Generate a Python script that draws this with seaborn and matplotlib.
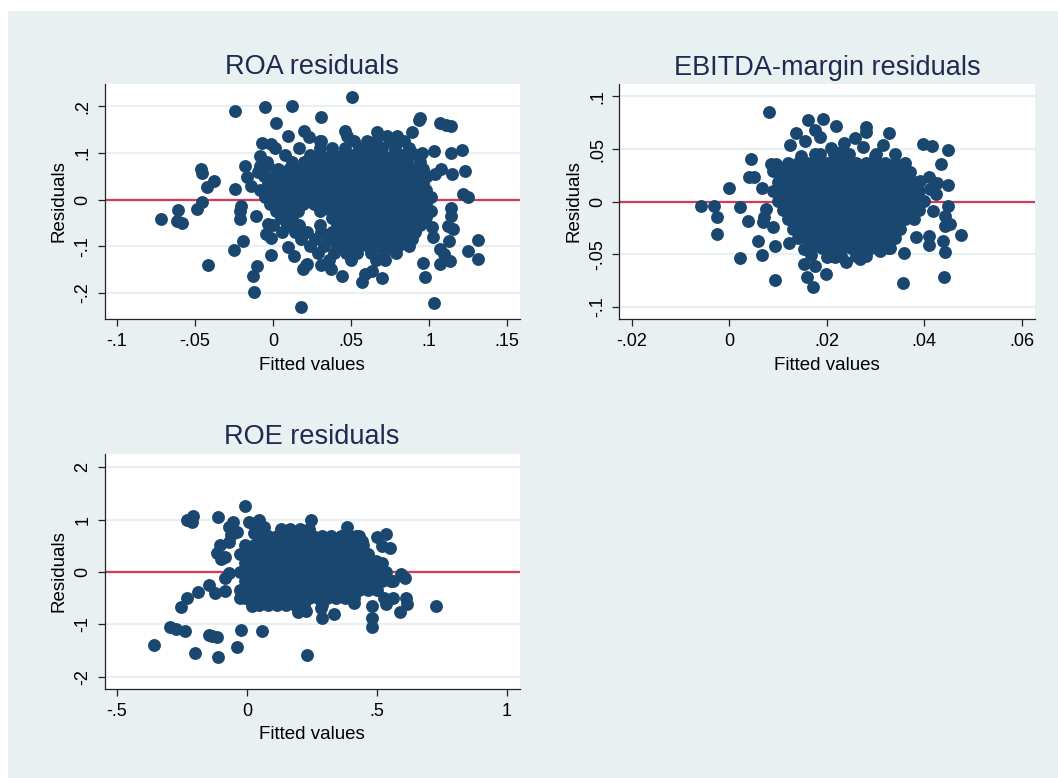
import matplotlib
matplotlib.use("Agg")
import matplotlib.pyplot as plt
from matplotlib.patches import Rectangle
import seaborn as sns
import pandas as pd

# ---------------- ROA residuals vs fitted values ----------------
# scattered observations (fitted, residual)
roa_fit_out = [-0.0244, -0.0054, 0.0123, 0.0021, 0.0097, 0.0202, 0.0234, -0.0069, -0.0015, -0.0086,
               -0.0086, -0.0033, -0.0176, -0.0167, -0.0246, -0.0379, -0.0422, -0.0464, -0.0454, -0.0455,
               -0.0486, -0.0607, -0.0716, -0.0616, -0.0582, -0.0204, -0.0214, -0.0210, -0.0193, -0.0252,
               -0.0415, -0.0101, -0.0129, -0.0124, 0.0177, -0.0012, -0.0108, -0.0140, -0.0097, -0.0044,
               -0.0012, -0.0033, 0.0192, 0.0217, 0.0095, 0.0132,
               0.0507, 0.0305, 0.0941, 0.0935, 0.1069, 0.1112, 0.1144, 0.0894, 0.0461, 0.0472,
               0.1033, 0.1138, 0.1212, 0.1229, 0.1148, 0.1080, 0.1037, 0.1215, 0.1247, 0.1138,
               0.1138, 0.1122, 0.1154, 0.1315, 0.1247, 0.1311, 0.1127, 0.1069, 0.1095, 0.1133,
               0.1069, 0.0962, 0.0975, 0.1033, 0.1026, 0.1020, 0.0984, 0.0696, 0.0568, 0.0632,
               0.0589, 0.0440, 0.0375, 0.0305, 0.0215, 0.0300, 0.0670, 0.0734, 0.0792, 0.0888, 0.0952]
roa_res_out = [0.1906, 0.199, 0.201, 0.1636, 0.1358, 0.148, 0.135, 0.121, 0.119, 0.094,
               0.073, 0.073, 0.073, 0.048, 0.023, 0.041, 0.027, 0.066, 0.057, -0.006,
               -0.020, -0.022, -0.041, -0.046, -0.051, -0.013, -0.024, -0.041, -0.088, -0.108,
               -0.141, -0.143, -0.163, -0.198, -0.229, -0.118, -0.034, 0.030, 0.059, -0.073,
               -0.083, -0.052, -0.148, -0.138, -0.102, -0.120,
               0.2206, 0.178, 0.176, 0.170, 0.164, 0.160, 0.157, 0.144, 0.148, 0.137,
               0.105, 0.099, 0.106, 0.062, 0.054, 0.066, 0.054, 0.012, 0.005, -0.018,
               -0.034, -0.056, -0.063, -0.086, -0.111, -0.128, -0.088, -0.106, -0.116, -0.131,
               -0.138, -0.136, -0.165, -0.222, -0.080, -0.059, -0.038, -0.168, -0.177, -0.152,
               -0.159, -0.163, -0.148, -0.140, -0.141, 0.126, 0.144, 0.137, 0.136, 0.101, 0.101]
# dense cloud, one row of fitted values per residual level
roa_core = [
    (0.125, [0.031, 0.052, 0.060, 0.066, 0.075, 0.084]),
    (0.110, [0.001, 0.017, 0.030, 0.038, 0.046, 0.055, 0.062, 0.070, 0.078, 0.087]),
    (0.095, [0.008, 0.024, 0.031, 0.038, 0.044, 0.051, 0.057, 0.064, 0.070, 0.077, 0.083, 0.092]),
    (0.080, [-0.004, 0.012, 0.020, 0.027, 0.034, 0.040, 0.047, 0.053, 0.060, 0.066, 0.073, 0.079, 0.086, 0.094]),
    (0.065, [0.003, 0.010, 0.017, 0.024, 0.031, 0.037, 0.044, 0.050, 0.057, 0.063, 0.070, 0.076, 0.083, 0.089, 0.096]),
    (0.050, [-0.006, 0.001, 0.008, 0.014, 0.021, 0.028, 0.034, 0.041, 0.047, 0.054, 0.060, 0.067, 0.073, 0.080, 0.086, 0.093, 0.099]),
    (0.035, [-0.003, 0.004, 0.011, 0.018, 0.024, 0.031, 0.037, 0.044, 0.050, 0.057, 0.063, 0.070, 0.076, 0.083, 0.089, 0.096]),
    (0.020, [-0.008, -0.001, 0.006, 0.013, 0.020, 0.027, 0.033, 0.040, 0.046, 0.053, 0.059, 0.066, 0.072, 0.079, 0.085, 0.092, 0.098]),
    (0.005, [-0.005, 0.002, 0.009, 0.016, 0.023, 0.030, 0.036, 0.043, 0.049, 0.056, 0.062, 0.069, 0.075, 0.082, 0.088, 0.095, 0.101]),
    (-0.010, [-0.002, 0.005, 0.012, 0.019, 0.026, 0.033, 0.039, 0.046, 0.052, 0.059, 0.065, 0.072, 0.078, 0.085, 0.091, 0.098]),
    (-0.025, [0.002, 0.009, 0.016, 0.030, 0.037, 0.043, 0.050, 0.056, 0.063, 0.069, 0.076, 0.082, 0.089, 0.095, 0.101]),
    (-0.040, [0.005, 0.012, 0.038, 0.045, 0.051, 0.058, 0.064, 0.071, 0.077, 0.084, 0.090, 0.097]),
    (-0.055, [0.000, 0.009, 0.017, 0.030, 0.041, 0.048, 0.054, 0.061, 0.067, 0.074, 0.080, 0.087, 0.094]),
    (-0.070, [0.006, 0.014, 0.022, 0.031, 0.038, 0.045, 0.051, 0.058, 0.064, 0.071, 0.077, 0.084, 0.091]),
    (-0.085, [0.018, 0.027, 0.035, 0.042, 0.049, 0.056, 0.062, 0.069, 0.075, 0.082, 0.089]),
    (-0.100, [0.024, 0.033, 0.041, 0.048, 0.055, 0.061, 0.068, 0.074, 0.080, 0.087]),
    (-0.115, [0.029, 0.039, 0.047, 0.054, 0.063, 0.071, 0.079]),
    (-0.130, [0.036, 0.050, 0.066, 0.072]),
]

# ---------------- EBITDA-margin residuals vs fitted values ----------------
ebitda_fit_out = [0.0082, -0.0058, -0.0031, -0.0025, -0.0025, 0.0000, 0.0022, 0.0022, 0.0038, 0.0044,
                  0.0041, 0.0051, 0.0066, 0.0058, 0.0066, 0.0094, 0.0094, 0.0123, 0.0085, 0.0096,
                  0.0089, 0.0072, 0.0068, 0.0089, 0.0076, 0.0125, 0.0137, 0.0161, 0.0175, 0.0185,
                  0.0155, 0.0146, 0.0193, 0.0186, 0.0154, 0.0168, 0.0154, 0.0175, 0.0159, 0.0172,
                  0.0198, 0.0200, 0.0218, 0.0280, 0.0281, 0.0328, 0.0257, 0.0235, 0.0209, 0.0230,
                  0.0274, 0.0315, 0.0298, 0.0398, 0.0415, 0.0448, 0.0434, 0.0391, 0.0410, 0.0426,
                  0.0448, 0.0449, 0.0442, 0.0452, 0.0442, 0.0476, 0.0384, 0.0410, 0.0410, 0.0439,
                  0.0442, 0.0441, 0.0357, 0.0359, 0.0216, 0.0240, 0.0268, 0.0310, 0.0326, 0.0418,
                  0.0425, 0.0411]
ebitda_res_out = [0.0857, -0.0044, -0.0044, -0.0143, -0.0310, 0.0128, -0.0053, -0.0536, -0.0180, 0.0407,
                  0.0238, 0.0238, 0.0130, -0.0377, -0.0505, -0.0425, -0.0743, -0.0396, 0.0359, 0.0359,
                  0.0290, -0.0149, -0.0196, -0.0244, -0.0070, 0.0543, 0.0650, 0.0778, 0.0683, 0.0613,
                  0.0580, 0.0438, 0.0788, 0.0454, -0.0450, -0.0505, -0.0593, -0.0610, -0.0720, -0.0810,
                  -0.0689, -0.0530, 0.0721, 0.0708, 0.0661, 0.0657, 0.0607, 0.0556, 0.0511, 0.0470,
                  0.0518, 0.0540, 0.0438, 0.0550, 0.0528, 0.0492, 0.0359, 0.0194, 0.0232, 0.0175,
                  0.0159, -0.0038, -0.0133, -0.0212, -0.0229, -0.0314, -0.0333, -0.0324, -0.0410, -0.0377,
                  -0.0482, -0.0714, -0.0777, -0.0491, -0.0530, -0.0577, -0.0546, -0.0467, -0.0441, -0.0086,
                  0.0073, 0.0121]
ebitda_core = [
    (0.045, [0.0175, 0.0215, 0.0245, 0.0300, 0.0340]),
    (0.037, [0.0120, 0.0140, 0.0160, 0.0180, 0.0200, 0.0220, 0.0240, 0.0260, 0.0280, 0.0300, 0.0320, 0.0340, 0.0360]),
    (0.028, [0.0110, 0.0130, 0.0150, 0.0170, 0.0190, 0.0210, 0.0230, 0.0250, 0.0270, 0.0290, 0.0310, 0.0330, 0.0350, 0.0370]),
    (0.019, [0.0100, 0.0120, 0.0140, 0.0160, 0.0180, 0.0200, 0.0220, 0.0240, 0.0260, 0.0280, 0.0300, 0.0320, 0.0340, 0.0360, 0.0380]),
    (0.010, [0.0090, 0.0110, 0.0130, 0.0150, 0.0170, 0.0190, 0.0210, 0.0230, 0.0250, 0.0270, 0.0290, 0.0310, 0.0330, 0.0350, 0.0370, 0.0390]),
    (0.001, [0.0100, 0.0120, 0.0140, 0.0160, 0.0180, 0.0200, 0.0220, 0.0240, 0.0260, 0.0280, 0.0300, 0.0320, 0.0340, 0.0360, 0.0380, 0.0400]),
    (-0.008, [0.0110, 0.0130, 0.0150, 0.0170, 0.0190, 0.0210, 0.0230, 0.0250, 0.0270, 0.0290, 0.0310, 0.0330, 0.0350, 0.0370, 0.0390]),
    (-0.017, [0.0120, 0.0140, 0.0160, 0.0180, 0.0200, 0.0220, 0.0240, 0.0260, 0.0280, 0.0300, 0.0320, 0.0340, 0.0360, 0.0380]),
    (-0.026, [0.0130, 0.0150, 0.0170, 0.0190, 0.0210, 0.0230, 0.0250, 0.0270, 0.0290, 0.0310, 0.0330, 0.0350]),
    (-0.035, [0.0140, 0.0160, 0.0180, 0.0200, 0.0220, 0.0240, 0.0260, 0.0280, 0.0300, 0.0320, 0.0340]),
    (-0.044, [0.0170, 0.0190, 0.0210, 0.0230, 0.0250, 0.0270, 0.0290, 0.0310, 0.0330]),
    (-0.052, [0.0210, 0.0230, 0.0260, 0.0280]),
]

# ---------------- ROE residuals vs fitted values ----------------
roe_fit_out = [-0.356, -0.008, -0.230, -0.208, -0.213, -0.111, -0.294, -0.272, -0.239, -0.198,
               -0.147, -0.115, -0.133, -0.111, -0.040, -0.022, 0.058, 0.232, -0.252, -0.230,
               -0.188, -0.144, -0.121, -0.085, -0.083, -0.068, -0.115, -0.102, -0.070, -0.083,
               -0.100, -0.070, -0.038, -0.063, -0.055, 0.007, 0.046, 0.065, 0.027, 0.030,
               0.200, 0.246, 0.384, 0.502, 0.534, 0.519, 0.551, 0.419, 0.444, 0.496,
               0.521, 0.592, 0.608, 0.560, 0.562, 0.611, 0.617, 0.589, 0.727, 0.528,
               0.534, 0.480, 0.480, 0.480, 0.410, 0.333, 0.288, 0.284, 0.198, 0.227,
               -0.025, 0.020]
roe_res_out = [-1.387, 1.267, 0.994, 1.077, 0.962, 1.046, -1.057, -1.082, -1.120, -1.545,
               -1.196, -1.248, -1.220, -1.629, -1.438, -1.101, -1.133, -1.590, -0.669, -0.497,
               -0.383, -0.257, -0.402, -0.371, -0.116, -0.020, 0.370, 0.518, 0.581, 0.295,
               0.250, 0.867, 0.771, 0.709, 0.950, 0.962, 0.994, 0.867, 0.741, 0.860,
               0.771, 1.000, 0.862, 0.670, 0.733, 0.499, 0.455, 0.689, 0.594, 0.210,
               0.177, -0.044, -0.108, -0.171, -0.489, -0.489, -0.616, -0.768, -0.648, -0.489,
               -0.616, -0.648, -0.870, -1.048, -0.584, -0.806, -0.870, -0.679, -0.771, -0.739,
               -0.497, -0.657]
roe_core = [
    (0.82, [0.1325, 0.1675, 0.2025, 0.2375]),
    (0.68, [0.045, 0.080, 0.115, 0.150, 0.185, 0.220, 0.255, 0.290, 0.325, 0.360, 0.395, 0.430]),
    (0.52, [-0.0075, 0.0275, 0.0625, 0.0975, 0.1325, 0.1675, 0.2025, 0.2375, 0.2725, 0.3075, 0.3425, 0.3775, 0.4125, 0.4475]),
    (0.35, [-0.025, 0.010, 0.045, 0.080, 0.115, 0.150, 0.185, 0.220, 0.255, 0.290, 0.325, 0.360, 0.395, 0.430, 0.465]),
    (0.175, [-0.0075, 0.0275, 0.0625, 0.0975, 0.1325, 0.1675, 0.2025, 0.2375, 0.2725, 0.3075, 0.3425, 0.3775, 0.4125, 0.4475, 0.4825]),
    (0.0, [-0.025, 0.010, 0.045, 0.080, 0.115, 0.150, 0.185, 0.220, 0.255, 0.290, 0.325, 0.360, 0.395, 0.430, 0.465, 0.500, 0.535]),
    (-0.175, [-0.0075, 0.0275, 0.0625, 0.0975, 0.1325, 0.1675, 0.2025, 0.2375, 0.2725, 0.3075, 0.3425, 0.3775, 0.4125, 0.4475, 0.4825, 0.5175, 0.5525]),
    (-0.35, [-0.025, 0.010, 0.045, 0.080, 0.115, 0.150, 0.185, 0.220, 0.255, 0.290, 0.325, 0.360, 0.395, 0.430, 0.465, 0.500]),
    (-0.50, [-0.0075, 0.0275, 0.0625, 0.0975, 0.1325, 0.1675, 0.2025, 0.2375, 0.2725, 0.3075, 0.3425, 0.3775, 0.4125]),
    (-0.63, [0.045, 0.080, 0.115, 0.150, 0.185, 0.220, 0.290]),
]

# ---------------- axis ticks ----------------
roa_xticks = [-0.1, -0.05, 0, 0.05, 0.1, 0.15]
roa_xlabels = ["-.1", "-.05", "0", ".05", ".1", ".15"]
roa_yticks = [-0.2, -0.1, 0, 0.1, 0.2]
roa_ylabels = ["-.2", "-.1", "0", ".1", ".2"]
ebitda_xticks = [-0.02, 0, 0.02, 0.04, 0.06]
ebitda_xlabels = ["-.02", "0", ".02", ".04", ".06"]
ebitda_yticks = [-0.1, -0.05, 0, 0.05, 0.1]
ebitda_ylabels = ["-.1", "-.05", "0", ".05", ".1"]
roe_xticks = [-0.5, 0, 0.5, 1]
roe_xlabels = ["-.5", "0", ".5", "1"]
roe_yticks = [-2, -1, 0, 1, 2]
roe_ylabels = ["-2", "-1", "0", "1", "2"]


def to_frame(fit_out, res_out, core_rows):
    fitted = list(fit_out)
    resid = list(res_out)
    for level, xs in core_rows:
        fitted.extend(xs)
        resid.extend([level] * len(xs))
    return pd.DataFrame({"Fitted values": fitted, "Residuals": resid})


sns.set_theme(style="white")
plt.rcParams["font.family"] = ["Liberation Sans", "DejaVu Sans"]

BG = "#E8F0F2"
NAVY = "#1A476F"
LINE_RED = "#D43A5A"
TITLE_COLOR = "#1E2A4F"

fig = plt.figure(figsize=(10.58, 7.78), dpi=100)
fig.patch.set_facecolor("white")
fig.add_artist(Rectangle((8 / 1058, 0), 1, 1 - 11 / 778, transform=fig.transFigure,
                         facecolor=BG, edgecolor="none", zorder=0))

W, H = 1058, 778


def make_axes(left, right, top, bottom):
    return fig.add_axes([left / W, 1 - bottom / H, (right - left) / W, (bottom - top) / H])


panels = [
    dict(ax=make_axes(104.8, 519.5, 84.0, 318.7), title="ROA residuals",
         data=to_frame(roa_fit_out, roa_res_out, roa_core),
         xlim=(-0.10775, 0.158), ylim=(-0.255, 0.2478),
         xt=roa_xticks, xl=roa_xlabels, yt=roa_yticks, yl=roa_ylabels),
    dict(ax=make_axes(619.2, 1035.0, 84.3, 318.7), title="EBITDA-margin residuals",
         data=to_frame(ebitda_fit_out, ebitda_res_out, ebitda_core),
         xlim=(-0.02263, 0.06275), ylim=(-0.1114, 0.1116),
         xt=ebitda_xticks, xl=ebitda_xlabels, yt=ebitda_yticks, yl=ebitda_ylabels),
    dict(ax=make_axes(104.8, 519.5, 453.7, 688.5), title="ROE residuals",
         data=to_frame(roe_fit_out, roe_res_out, roe_core),
         xlim=(-0.5465, 1.048), ylim=(-2.225, 2.26),
         xt=roe_xticks, xl=roe_xlabels, yt=roe_yticks, yl=roe_ylabels),
]

for p in panels:
    ax = p["ax"]
    ax.set_facecolor("white")
    ax.set_axisbelow(True)
    sns.scatterplot(data=p["data"], x="Fitted values", y="Residuals", ax=ax,
                    color=NAVY, s=86, linewidth=0, alpha=1, legend=False, zorder=3)
    ax.axhline(0, color=LINE_RED, lw=1.6, zorder=2)
    ax.set_xlim(*p["xlim"])
    ax.set_ylim(*p["ylim"])
    ax.set_xticks(p["xt"])
    ax.set_xticklabels(p["xl"])
    ax.set_yticks(p["yt"])
    ax.set_yticklabels(p["yl"], rotation=90, va="center")
    ax.yaxis.grid(True, color=BG, lw=1.6)
    ax.xaxis.grid(False)
    for side in ("top", "right"):
        ax.spines[side].set_visible(False)
    for side in ("left", "bottom"):
        ax.spines[side].set_color("#222222")
        ax.spines[side].set_linewidth(0.9)
    ax.tick_params(axis="both", direction="out", length=5, width=0.9, color="#222222",
                   labelsize=13, labelcolor="black", left=True, bottom=True)
    ax.tick_params(axis="x", pad=5.5)
    ax.tick_params(axis="y", pad=4.5)
    ax.set_xlabel("Fitted values", fontsize=13.5, color="black", labelpad=4.5)
    ax.set_ylabel("Residuals", fontsize=13.5, color="black", labelpad=5)
    ax.set_title(p["title"], fontsize=19.5, color=TITLE_COLOR, pad=7)

fig.savefig("out.png", dpi=100, facecolor=fig.get_facecolor())
